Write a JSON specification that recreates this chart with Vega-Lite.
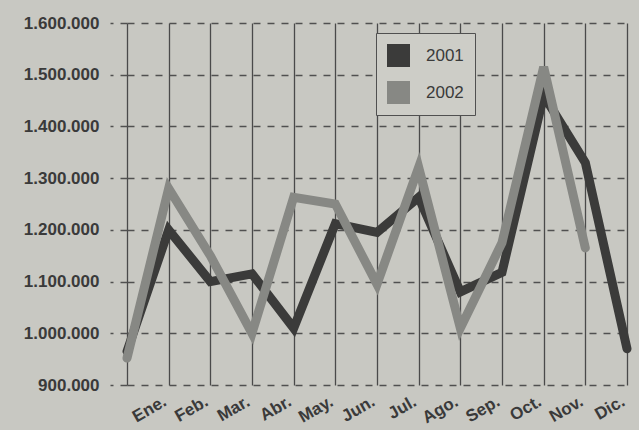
{
  "$schema": "https://vega.github.io/schema/vega-lite/v6.json",
  "autosize": "none",
  "padding": {"left": 127, "top": 23, "right": 12, "bottom": 45},
  "width": 500,
  "height": 362,
  "background": "#c8c8c2",
  "view": {"stroke": null},
  "config": {"font": "Liberation Sans"},
  "data": {
    "values": [
      {"pos": 0, "year": "2001", "value": 965000},
      {"pos": 1, "year": "2001", "value": 1200000},
      {"pos": 2, "year": "2001", "value": 1100000},
      {"pos": 3, "year": "2001", "value": 1115000},
      {"pos": 4, "year": "2001", "value": 1010000},
      {"pos": 5, "year": "2001", "value": 1212000},
      {"pos": 6, "year": "2001", "value": 1195000},
      {"pos": 7, "year": "2001", "value": 1263000},
      {"pos": 8, "year": "2001", "value": 1080000},
      {"pos": 9, "year": "2001", "value": 1118000},
      {"pos": 10, "year": "2001", "value": 1460000},
      {"pos": 11, "year": "2001", "value": 1330000},
      {"pos": 12, "year": "2001", "value": 970000},
      {"pos": 0, "year": "2002", "value": 952000},
      {"pos": 1, "year": "2002", "value": 1280000},
      {"pos": 2, "year": "2002", "value": 1150000},
      {"pos": 3, "year": "2002", "value": 1000000},
      {"pos": 4, "year": "2002", "value": 1263000},
      {"pos": 5, "year": "2002", "value": 1250000},
      {"pos": 6, "year": "2002", "value": 1095000},
      {"pos": 7, "year": "2002", "value": 1321000},
      {"pos": 8, "year": "2002", "value": 1010000},
      {"pos": 9, "year": "2002", "value": 1175000},
      {"pos": 10, "year": "2002", "value": 1515000},
      {"pos": 11, "year": "2002", "value": 1165000}
    ]
  },
  "mark": {"type": "line", "strokeWidth": 9, "strokeCap": "round", "strokeJoin": "miter"},
  "encoding": {
    "x": {
      "field": "pos",
      "type": "quantitative",
      "scale": {"domain": [0, 12], "nice": false, "zero": false},
      "axis": {
        "title": null,
        "values": [0, 1, 2, 3, 4, 5, 6, 7, 8, 9, 10, 11, 12],
        "labelExpr": "['', 'Ene.', 'Feb.', 'Mar.', 'Abr.', 'May.', 'Jun.', 'Jul.', 'Ago.', 'Sep.', 'Oct.', 'Nov.', 'Dic.'][datum.value]",
        "labelAngle": -30,
        "labelFontSize": 17,
        "labelFontWeight": "bold",
        "labelColor": "#3a3a3a",
        "labelPadding": 8,
        "labelOffset": -8,
        "labelFlush": false,
        "labelOverlap": false,
        "ticks": false,
        "domain": false,
        "grid": true,
        "gridColor": "#4a4a4a",
        "gridWidth": 1.3,
        "gridOpacity": 1
      }
    },
    "y": {
      "field": "value",
      "type": "quantitative",
      "scale": {"domain": [900000, 1600000], "nice": false, "zero": false},
      "axis": {
        "title": null,
        "values": [900000, 1000000, 1100000, 1200000, 1300000, 1400000, 1500000, 1600000],
        "labelExpr": "datum.value >= 1000000 ? format(datum.value / 1000000, '.3f') + '.000' : format(datum.value / 1000, 'd') + '.000'",
        "labelFontSize": 17,
        "labelFontWeight": "bold",
        "labelColor": "#3a3a3a",
        "labelPadding": 11,
        "labelFlush": false,
        "labelOverlap": false,
        "domain": false,
        "ticks": true,
        "tickSize": 17,
        "tickColor": "#505050",
        "tickWidth": 1.3,
        "tickDash": [7, 7],
        "grid": true,
        "gridColor": "#505050",
        "gridWidth": 1.3,
        "gridDash": [7, 7],
        "gridOpacity": 1
      }
    },
    "color": {
      "field": "year",
      "type": "nominal",
      "scale": {"domain": ["2001", "2002"], "range": ["#3b3b3a", "#878884"]},
      "legend": {
        "title": null,
        "orient": "none",
        "legendX": 249,
        "legendY": 10,
        "symbolType": "square",
        "symbolSize": 529,
        "symbolStrokeWidth": 0,
        "labelFontSize": 17,
        "labelColor": "#3a3a3a",
        "labelOffset": 16,
        "rowPadding": 14,
        "padding": 11,
        "fillColor": "#cdcdc7",
        "strokeColor": "#505050",
        "encode": {
          "entries": {
            "update": {
              "width": {"value": 90}
            }
          },
          "symbols": {
            "update": {
              "fill": {"scale": "color", "field": "value"},
              "opacity": {"value": 1}
            }
          }
        }
      }
    }
  }
}
